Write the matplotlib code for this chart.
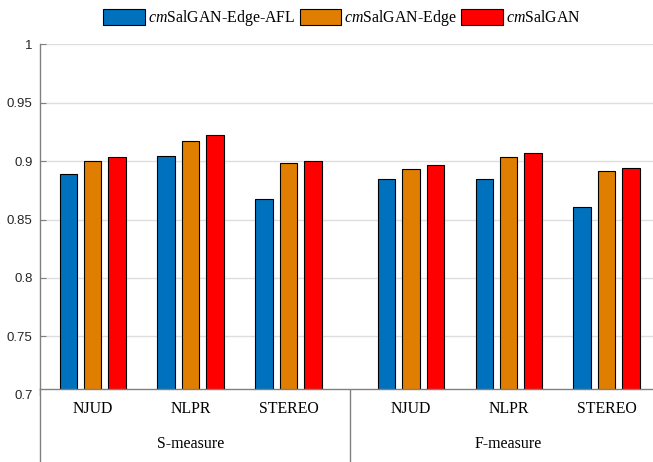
import matplotlib
matplotlib.use("Agg")
import matplotlib.pyplot as plt
import numpy as np

datasets = ["NJUD", "NLPR", "STEREO", "NJUD", "NLPR", "STEREO"]
measures = ["S-measure", "F-measure"]
series_names = [r"$\mathit{cm}$SalGAN-Edge-AFL", r"$\mathit{cm}$SalGAN-Edge", r"$\mathit{cm}$SalGAN"]
afl = [0.889, 0.904, 0.8675, 0.885, 0.885, 0.861]
edge = [0.900, 0.9175, 0.898, 0.893, 0.9035, 0.8913]
full = [0.9035, 0.9225, 0.900, 0.8965, 0.907, 0.894]
colors = ["#0072BD", "#DF7E00", "#FF0000"]
yticks = [0.7, 0.75, 0.8, 0.85, 0.9, 0.95, 1.0]
ytick_labels = ["0.7", "0.75", "0.8", "0.85", "0.9", "0.95", "1"]

plt.rcParams["mathtext.fontset"] = "custom"
plt.rcParams["mathtext.rm"] = "Liberation Serif"
plt.rcParams["mathtext.it"] = "Liberation Serif:italic"

W, H = 653, 462
fig = plt.figure(figsize=(W / 100, H / 100), dpi=100)

left = 39.5 / W
ax_bottom = 1 - 394.7 / H
ax_top = 1 - 44.3 / H
ax = fig.add_axes([left, ax_bottom, 1 - left, ax_top - ax_bottom])

xpos = np.array([1, 2, 3, 4.25, 5.25, 6.25])
xlim = (1 - 53.3 / 98, 1 + (653 - 92) / 98)
bw = 0.178
off = 0.25
gray = "#808080"
for i, (vals, c, name) in enumerate(zip([afl, edge, full], colors, series_names)):
    ax.bar(xpos + (i - 1) * off, np.array(vals) - 0.7, bottom=0.7, width=bw,
           color=c, edgecolor="black", linewidth=0.8, label=name, zorder=3)

ax.set_xlim(*xlim)
ax.set_ylim(0.7, 1.0)
ax.set_yticks(yticks)
ax.set_yticklabels(ytick_labels, fontfamily="Liberation Sans", fontsize=9.5, color="#262626")
ax.set_xticks([])
ax.tick_params(axis="y", direction="in", length=4, color=gray, pad=5)
ax.grid(axis="y", color="#dedede", linewidth=1, zorder=0)
for s in ["top", "right", "bottom"]:
    ax.spines[s].set_visible(False)
ax.spines["left"].set_color(gray)
ax.spines["left"].set_linewidth(1)

# lower label box
box_top = 1 - 389 / H
bx = fig.add_axes([left, 0, 1 - left, box_top], zorder=5)
bx.set_facecolor("white")
bx.set_xlim(*xlim)
bx.set_ylim(0, 1)
bx.set_xticks([])
bx.set_yticks([])
for s in ["right", "bottom"]:
    bx.spines[s].set_visible(False)
for s in ["left", "top"]:
    bx.spines[s].set_color(gray)
    bx.spines[s].set_linewidth(1)
sep = (xpos[2] + xpos[3]) / 2
bx.axvline(sep, color=gray, linewidth=1)
row1 = (H - 409) / 73
row2 = (H - 444) / 73
for x, d in zip(xpos, datasets):
    bx.text(x, row1, d, ha="center", va="center", fontfamily="Liberation Serif", fontsize=11.4)
bx.text(xpos[1], row2, measures[0], ha="center", va="center", fontfamily="Liberation Serif", fontsize=11.4)
bx.text(xpos[4], row2, measures[1], ha="center", va="center", fontfamily="Liberation Serif", fontsize=11.4)

handles, labels = ax.get_legend_handles_labels()
leg = fig.legend(handles, labels, loc="center", bbox_to_anchor=(342 / W, 1 - 18 / H), ncol=3,
                 frameon=False, handlelength=2.6, handleheight=1.2, handletextpad=0.2,
                 columnspacing=0.3, borderpad=0, borderaxespad=0,
                 prop={"family": "Liberation Serif", "size": 11.4})

fig.savefig("out.png", dpi=100)
